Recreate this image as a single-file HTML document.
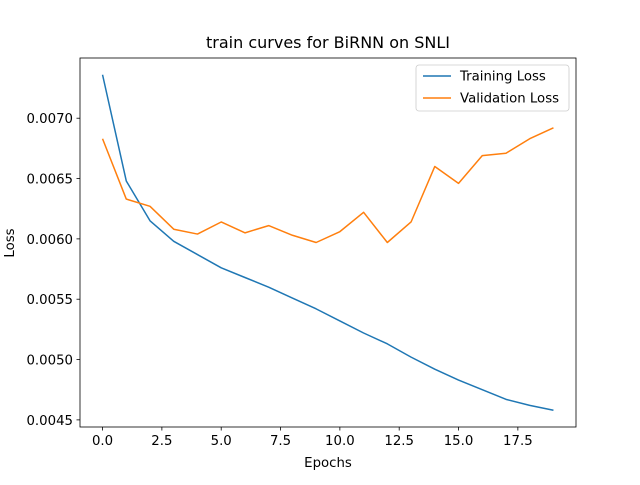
<!DOCTYPE html>
<html><head><meta charset="utf-8"><style>
body{margin:0;background:#fff;}
svg text{font-family:"DejaVu Sans","Liberation Sans",sans-serif;fill:#000;}
</style></head><body>
<svg id="chart" width="640" height="480" xmlns="http://www.w3.org/2000/svg">
<rect width="640" height="480" fill="#fff"/>
<text x="328" y="48" font-size="16" text-anchor="middle">train curves for BiRNN on SNLI</text>
<g id="plot"></g>
<rect x="80" y="58" width="496" height="369" fill="none" stroke="#000" stroke-width="0.8"/>
<text x="328" y="467" font-size="13.3" text-anchor="middle">Epochs</text>
<text transform="translate(14,243) rotate(-90)" font-size="13.3" text-anchor="middle">Loss</text>
<g>
<rect x="416" y="65" width="153" height="46" rx="3" fill="#fff" stroke="#ccc" stroke-width="0.8"/>
<line x1="423" y1="76" x2="451" y2="76" stroke="#1f77b4" stroke-width="1.5"/>
<text x="460" y="80.5" font-size="13.3">Training Loss</text>
<line x1="423" y1="98" x2="451" y2="98" stroke="#ff7f0e" stroke-width="1.5"/>
<text x="460" y="102.5" font-size="13.3">Validation Loss</text>
</g>
</svg>
<script>
const epochs=[0,1,2,3,4,5,6,7,8,9,10,11,12,13,14,15,16,17,18,19];
const trainLoss=[0.00736,0.00648,0.00615,0.00598,0.00587,0.00576,0.00568,0.00560,0.00551,0.00542,0.00532,0.00522,0.00513,0.00502,0.00492,0.00483,0.00475,0.00467,0.00462,0.00458];
const valLoss=[0.00683,0.00633,0.00627,0.00608,0.00604,0.00614,0.00605,0.00611,0.00603,0.00597,0.00606,0.00622,0.00597,0.00614,0.00660,0.00646,0.00669,0.00671,0.00683,0.00692];
const xTicks=[0,2.5,5,7.5,10,12.5,15,17.5];
const xTickLabels=["0.0","2.5","5.0","7.5","10.0","12.5","15.0","17.5"];
const yTicks=[0.0045,0.0050,0.0055,0.0060,0.0065,0.0070];
const yTickLabels=["0.0045","0.0050","0.0055","0.0060","0.0065","0.0070"];

const NS="http://www.w3.org/2000/svg";
const L=80,R=576,T=58,B=427;
const all=trainLoss.concat(valLoss);
const xmin=Math.min(...epochs),xmax=Math.max(...epochs);
const ymin=Math.min(...all),ymax=Math.max(...all);
const xpad=(xmax-xmin)*0.05,ypad=(ymax-ymin)*0.05;
const xs=v=>L+(v-(xmin-xpad))/((xmax+xpad)-(xmin-xpad))*(R-L);
const ys=v=>B-(v-(ymin-ypad))/((ymax+ypad)-(ymin-ypad))*(B-T);
const g=document.getElementById('plot');
function mk(tag,attrs){const e=document.createElementNS(NS,tag);for(const k in attrs)e.setAttribute(k,attrs[k]);g.appendChild(e);return e;}
xTicks.forEach((t,i)=>{
 const x=xs(t);
 const tk=mk('line',{x1:x,x2:x,y1:B,y2:B+3.5,stroke:'#000','stroke-width':0.8});
 
 
 const tx=mk('text',{x:x,y:B+18,'font-size':13.3,'text-anchor':'middle'});tx.textContent=xTickLabels[i];
 
 
});
yTicks.forEach((t,i)=>{
 const y=ys(t);
 const tk=mk('line',{x1:L-3.5,x2:L,y1:y,y2:y,stroke:'#000','stroke-width':0.8});
 
 
 const tx=mk('text',{x:L-7,y:y+5,'font-size':13.3,'text-anchor':'end'});tx.textContent=yTickLabels[i];
 
 
});
function line(data,color,name){
 const p=mk('polyline',{points:data.map((v,i)=>xs(epochs[i])+','+ys(v)).join(' '),fill:'none',stroke:color,'stroke-width':1.5,'stroke-linejoin':'round'});
 
 
}
line(trainLoss,'#1f77b4','training-loss-line');
line(valLoss,'#ff7f0e','validation-loss-line');
</script>
</body></html>
